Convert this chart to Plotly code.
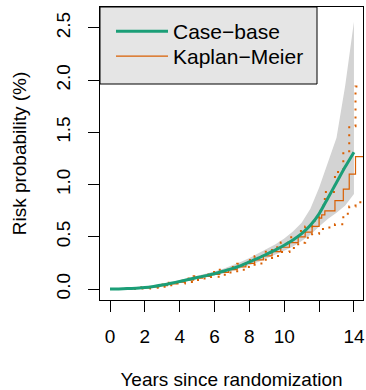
import plotly.graph_objects as go

# ---- data ----
cb_time = [0, 0.5, 1, 1.5, 2, 2.5, 3, 3.5, 4, 4.5, 5, 5.5, 6, 6.5, 7, 7.5, 8, 8.5, 9, 9.5,
           10, 10.5, 11, 11.5, 12, 12.5, 13, 13.5, 14]
cb_risk = [0, 0.001, 0.004, 0.008, 0.014, 0.025, 0.038, 0.055, 0.073, 0.092, 0.11, 0.128,
           0.147, 0.17, 0.195, 0.225, 0.26, 0.295, 0.335, 0.375, 0.42, 0.47, 0.53, 0.61,
           0.72, 0.87, 1.02, 1.17, 1.31]
cb_lower = [0, 0, 0.003, 0.006, 0.011, 0.02, 0.031, 0.046, 0.062, 0.079, 0.095, 0.111,
            0.128, 0.148, 0.17, 0.197, 0.228, 0.258, 0.293, 0.328, 0.366, 0.408, 0.46,
            0.52, 0.6, 0.67, 0.73, 0.8, 0.91]
cb_upper = [0, 0.002, 0.006, 0.011, 0.018, 0.031, 0.046, 0.066, 0.086, 0.107, 0.127, 0.147,
            0.168, 0.195, 0.223, 0.258, 0.298, 0.34, 0.385, 0.43, 0.485, 0.55, 0.635, 0.77,
            0.97, 1.2, 1.45, 1.95, 2.56]

km_time = [0, 0.6, 1.2, 1.8, 2.3, 2.8, 3.3, 3.8, 4.3, 4.8, 5.3, 5.8, 6.3, 6.8, 7.3, 7.8,
           8.3, 8.8, 9.3, 9.8, 10.3, 10.8, 11.2, 11.6, 12.0, 12.15, 12.33, 12.91, 13.39,
           13.73, 14.09, 14.6]
km_risk = [0, 0.002, 0.005, 0.011, 0.02, 0.033, 0.048, 0.066, 0.084, 0.104, 0.12, 0.14,
           0.16, 0.185, 0.213, 0.245, 0.28, 0.318, 0.358, 0.4, 0.445, 0.5, 0.545, 0.6,
           0.68, 0.71, 0.748, 0.847, 0.956, 1.10, 1.268, 1.268]
km_upper = [0, 0.004, 0.009, 0.017, 0.028, 0.043, 0.06, 0.08, 0.1, 0.122, 0.14, 0.162,
            0.184, 0.212, 0.242, 0.278, 0.315, 0.356, 0.4, 0.446, 0.496, 0.556, 0.6,
            0.655, 0.75, 0.8, 0.93, 1.12, 1.32, 1.56, 1.94, 1.94]
km_lower = [0, 0, 0.001, 0.005, 0.012, 0.023, 0.036, 0.052, 0.068, 0.086, 0.1, 0.118,
            0.136, 0.158, 0.184, 0.212, 0.245, 0.28, 0.316, 0.354, 0.394, 0.444, 0.49,
            0.53, 0.565, 0.575, 0.59, 0.62, 0.72, 0.79, 0.83, 0.83]

x_ticks = [0, 2, 4, 6, 8, 10, 12, 14]
x_tick_labels = ["0", "2", "4", "6", "8", "10", "", "14"]
y_ticks = [0, 0.5, 1.0, 1.5, 2.0, 2.5]
y_tick_labels = ["0.0", "0.5", "1.0", "1.5", "2.0", "2.5"]

GREEN = "#1B9E77"
ORANGE = "#D95F02"
BAND = "#D3D3D3"
FONT = "Liberation Sans, Arial, Helvetica, sans-serif"

fig = go.Figure()
fig.add_trace(go.Scatter(
    x=cb_time + cb_time[::-1], y=cb_upper + cb_lower[::-1],
    fill="toself", fillcolor=BAND, line=dict(width=0, color=BAND),
    mode="lines", showlegend=False, hoverinfo="skip"))
for ci in (km_upper, km_lower):
    fig.add_trace(go.Scatter(
        x=km_time, y=ci, mode="lines", showlegend=False, hoverinfo="skip",
        line=dict(color=ORANGE, width=2, dash="2px,6px", shape="hv")))
fig.add_trace(go.Scatter(
    x=km_time, y=km_risk, mode="lines", name="Kaplan\u2212Meier", legend="legend2",
    line=dict(color=ORANGE, width=1.2, shape="hv")))
fig.add_trace(go.Scatter(
    x=cb_time, y=cb_risk, mode="lines", name="Case\u2212base", legend="legend",
    line=dict(color=GREEN, width=3, shape="spline", smoothing=0.6)))

W, H = 366, 390
L, R, T, B = 100, 3, 7, 90
pw, ph = W - L - R, H - T - B

def px_x(px):
    return (px - L) / pw

def px_y(py):
    return 1 - (py - T) / ph

fig.add_shape(type="rect", xref="paper", yref="paper",
              x0=0, x1=px_x(317), y0=px_y(84), y1=1,
              fillcolor="#E5E5E5", line=dict(color="black", width=1), layer="below")

axis_common = dict(showline=True, mirror=True, linecolor="black", linewidth=1,
                   ticks="outside", ticklen=11, tickcolor="black", tickwidth=1,
                   showgrid=False, zeroline=False, automargin=False,
                   tickfont=dict(family=FONT, size=19, color="black"))

legend_common = dict(xanchor="left", yanchor="top", bgcolor="rgba(0,0,0,0)",
                     borderwidth=0, font=dict(family=FONT, size=21, color="black"),
                     itemwidth=52)

fig.update_layout(
    width=W, height=H,
    margin=dict(l=L, r=R, t=T, b=B, autoexpand=False),
    paper_bgcolor="white", plot_bgcolor="white",
    font=dict(family=FONT, color="black"),
    showlegend=True,
    legend=dict(x=px_x(111), y=px_y(11), **legend_common),
    legend2=dict(x=px_x(111), y=px_y(36), **legend_common),
    xaxis=dict(range=[-0.574, 14.52], tickvals=x_ticks, ticktext=x_tick_labels,
               ticklabelstandoff=8,
               title=dict(text="Years since randomization",
                          font=dict(family=FONT, size=19), standoff=38),
               **axis_common),
    yaxis=dict(range=[-0.105, 2.701], tickvals=y_ticks, ticktext=y_tick_labels,
               tickangle=-90, ticklabelstandoff=10,
               title=dict(text="Risk probability (%)",
                          font=dict(family=FONT, size=19), standoff=21),
               **axis_common),
)

fig.write_html("out.html")
